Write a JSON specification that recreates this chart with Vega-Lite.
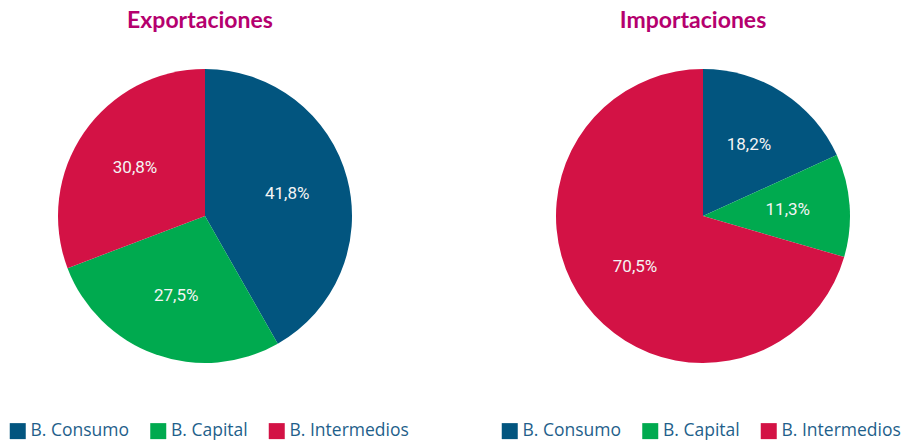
{
  "$schema": "https://vega.github.io/schema/vega-lite/v6.json",
  "padding": {"top": 10, "left": 0, "right": 0, "bottom": 0},
  "spacing": 88,
  "config": {
    "view": {"stroke": null},
    "locale": {"number": {"decimal": ",", "thousands": ".", "grouping": [3], "currency": ["", " €"]}},
    "title": {"font": "Lato", "fontSize": 23, "fontWeight": "bold", "color": "#b5006e", "anchor": "middle", "offset": 16},
    "legend": {"orient": "none", "direction": "horizontal", "title": null, "symbolType": "square", "symbolSize": 256, "symbolStrokeWidth": 0, "labelFont": "Open Sans", "labelFontSize": 17.5, "labelColor": "#1f5f8b", "labelOffset": 4, "columnPadding": 19.5, "labelLimit": 200}
  },
  "resolve": {"scale": {"color": "independent"}, "legend": {"color": "independent"}},
  "hconcat": [
    {
      "title": {"text": "Exportaciones", "dx": -5},
      "width": 410,
      "height": 334,
      "data": {"values": [
        {"tipo": "B. Consumo", "orden": 1, "valor": 0.418},
        {"tipo": "B. Capital", "orden": 2, "valor": 0.275},
        {"tipo": "B. Intermedios", "orden": 3, "valor": 0.308}
      ]},
      "encoding": {
        "theta": {"field": "valor", "type": "quantitative", "stack": true},
        "order": {"field": "orden", "type": "quantitative"},
        "color": {"field": "tipo", "type": "nominal",
          "scale": {"domain": ["B. Consumo", "B. Capital", "B. Intermedios"], "range": ["#02557f", "#00aa4f", "#d31245"]},
          "legend": {"legendX": 9, "legendY": 373}}
      },
      "layer": [
        {"mark": {"type": "arc", "outerRadius": 147}},
        {"mark": {"type": "text", "radius": 85, "font": "Roboto", "fontSize": 17},
         "encoding": {"text": {"field": "valor", "type": "quantitative", "format": ".1%"}, "color": {"value": "#f4f4f4"}}}
      ]
    },
    {
      "title": {"text": "Importaciones", "dx": -10},
      "width": 410,
      "height": 334,
      "data": {"values": [
        {"tipo": "B. Consumo", "orden": 1, "valor": 0.182},
        {"tipo": "B. Capital", "orden": 2, "valor": 0.113},
        {"tipo": "B. Intermedios", "orden": 3, "valor": 0.705}
      ]},
      "encoding": {
        "theta": {"field": "valor", "type": "quantitative", "stack": true},
        "order": {"field": "orden", "type": "quantitative"},
        "color": {"field": "tipo", "type": "nominal",
          "scale": {"domain": ["B. Consumo", "B. Capital", "B. Intermedios"], "range": ["#02557f", "#00aa4f", "#d31245"]},
          "legend": {"legendX": 3, "legendY": 373}}
      },
      "layer": [
        {"mark": {"type": "arc", "outerRadius": 147}},
        {"mark": {"type": "text", "radius": 85, "font": "Roboto", "fontSize": 17},
         "encoding": {"text": {"field": "valor", "type": "quantitative", "format": ".1%"}, "color": {"value": "#f4f4f4"}}}
      ]
    }
  ]
}
